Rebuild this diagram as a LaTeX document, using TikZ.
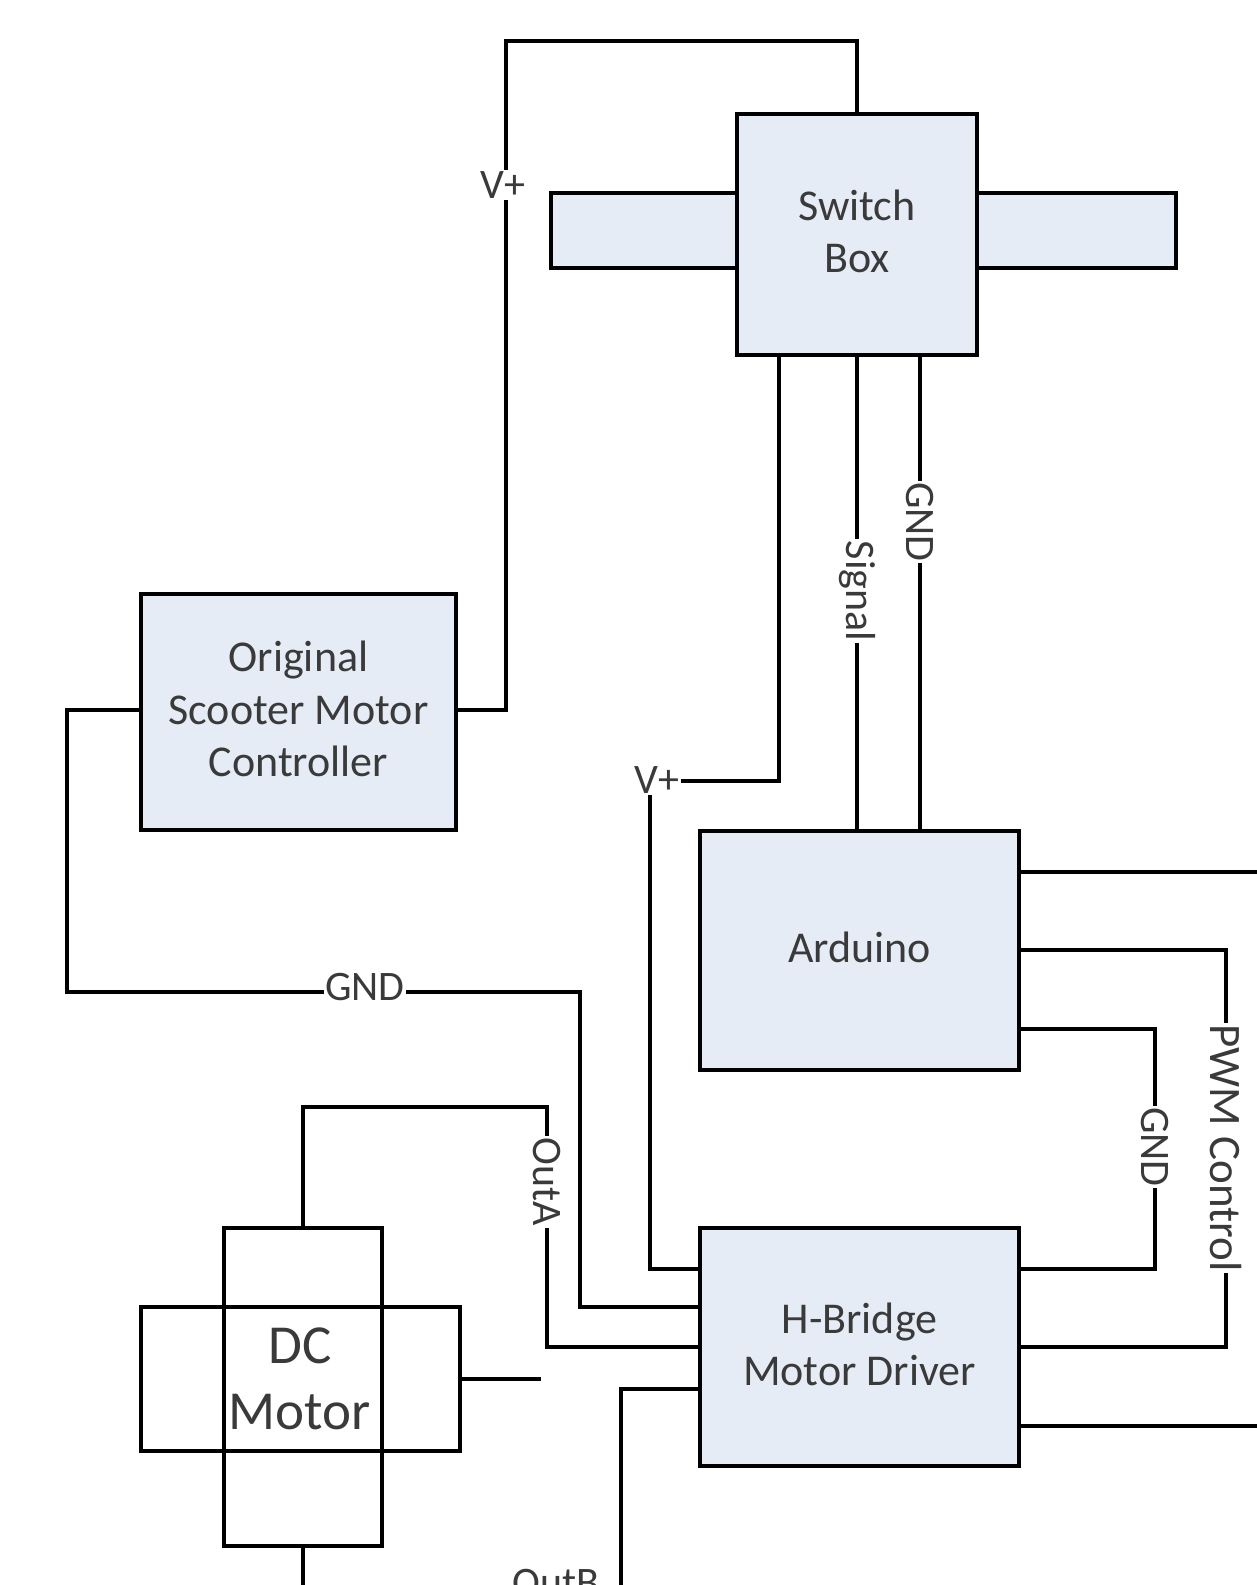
\documentclass[tikz,border=0pt]{standalone}
\usepackage{fontspec}
\setmainfont{Carlito}
\definecolor{boxfill}{HTML}{E6ECF6}
\definecolor{txt}{HTML}{3A3A3A}
\tikzset{
  block/.style={draw=black,line width=4pt,fill=boxfill,inner sep=0pt},
  blocktext/.style={text=txt,align=center,inner sep=0pt,font=\fontsize{44}{52.5}\selectfont},
  hollow/.style={draw=black,line width=4pt,inner sep=0pt},
  wire/.style={draw=black,line width=4pt,line join=miter},
  lbl/.style={fill=white,text=txt,inner sep=1.5pt,font=\fontsize{42}{44}\selectfont},
  vlbl/.style={lbl,rotate=-90}
}
\begin{document}
\begin{tikzpicture}[x=1pt,y=-1pt]
\useasboundingbox (0,0) rectangle (1257,1585);
\clip (0,0) rectangle (1257,1585);
% switch box with side tabs
\node[block,minimum width=186pt,minimum height=75pt] (tabL) at (644,230.5) {};
\node[block,minimum width=199pt,minimum height=75pt] (tabR) at (1076.5,230.5) {};
\node[block,minimum width=240pt,minimum height=241pt,label={[blocktext,yshift=3pt]center:{Switch\\Box}}] (sw) at (857,234.5) {};
% other blocks
\node[block,minimum width=315pt,minimum height=236pt,label={[blocktext,yshift=3pt]center:{Original\\Scooter Motor\\Controller}}] (ctl) at (298.5,712) {};
\node[block,minimum width=319pt,minimum height=239pt,label={[blocktext,yshift=3pt]center:{Arduino}}] (ard) at (859.5,950) {};
\node[block,minimum width=319pt,minimum height=238pt,label={[blocktext,yshift=2pt]center:{H-Bridge\\Motor Driver}}] (hb) at (859.5,1346.5) {};
% DC motor
\node[hollow,minimum width=319pt,minimum height=144pt] (mw) at (300.5,1378.5) {};
\node[hollow,minimum width=158pt,minimum height=318pt] (mt) at (303,1386.5) {};
\node[text=txt,align=center,inner sep=0pt,font=\fontsize{55}{65.5}\selectfont] (mtext) at (300,1379) {DC\\Motor};
% free ends and bends
\coordinate (top1) at (857,40.5);
\coordinate (top2) at (505.5,40.5);
\coordinate (top3) at (505.5,709.5);
\coordinate (gnd1) at (67,709.5);
\coordinate (gnd2) at (67,991.5);
\coordinate (gnd3) at (580,991.5);
\coordinate (gnd4) at (580,1306.5);
\coordinate (v1) at (779,780.5);
\coordinate (v2) at (650,780.5);
\coordinate (v3) at (650,1269);
\coordinate (a1) at (1257,871.5);
\coordinate (a2) at (1226,950);
\coordinate (a3) at (1226,1346.5);
\coordinate (a4) at (1155,1029);
\coordinate (a5) at (1155,1269);
\coordinate (a6) at (1257,1425.5);
\coordinate (oa1) at (547,1346.5);
\coordinate (oa2) at (547,1107);
\coordinate (oa3) at (303,1107);
\coordinate (ob1) at (621,1388.5);
\coordinate (ob2) at (621,1585);
\coordinate (stub) at (541,1378.5);
\coordinate (mb) at (303,1585);
% connectors
\draw[wire] (sw.north) -- (top1) -- (top2) -- (top3) -- (ctl.east |- top3);
\draw[wire] (ctl.west |- gnd1) -- (gnd1) -- (gnd2) -- (gnd3) -- (gnd4) -- (hb.west |- gnd4);
\draw[wire] (sw.south -| v1) -- (v1) -- (v2) -- (v3) -- (hb.west |- v3);
\draw[wire] (sw.south) -- (ard.north -| sw.south);
\draw[wire] (sw.south -| 920,0) -- (ard.north -| 920,0);
\draw[wire] (ard.east |- a1) -- (a1);
\draw[wire] (ard.east |- a2) -- (a2) -- (a3) -- (hb.east |- a3);
\draw[wire] (ard.east |- a4) -- (a4) -- (a5) -- (hb.east |- a5);
\draw[wire] (hb.east |- a6) -- (a6);
\draw[wire] (hb.west |- oa1) -- (oa1) -- (oa2) -- (oa3) -- (mt.north);
\draw[wire] (hb.west |- ob1) -- (ob1) -- (ob2);
\draw[wire] (mw.east) -- (stub);
\draw[wire] (mt.south) -- (mb);
% labels
\node[lbl] (lv1) at (503,185) {V+};
\node[lbl] (lv2) at (657,780) {V+};
\node[lbl] (lg1) at (365,987) {GND};
\node[lbl,fill=none] (lob) at (556,1583) {OutB};
\node[vlbl] (lsig) at (857,591) {Signal};
\node[vlbl] (lg2) at (920,522) {GND};
\node[vlbl] (lg3) at (1155,1147) {GND};
\node[vlbl,font=\fontsize{45}{48}\selectfont] (lpwm) at (1226,1148) {PWM Control};
\node[vlbl] (loa) at (547,1182) {OutA};
\end{tikzpicture}
\end{document}
